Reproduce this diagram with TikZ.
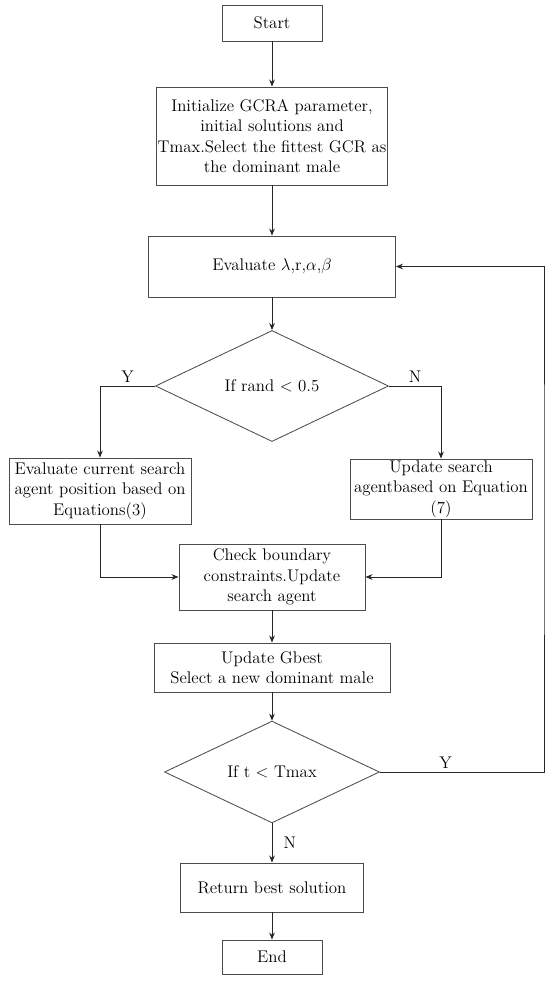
\documentclass[tikz,border=0pt]{standalone}
\usetikzlibrary{arrows.meta, shapes.geometric}
\usepackage{xcolor}
\def\pxunit{0.025cm}

\begin{document}
\begin{tikzpicture}[x=\pxunit, y=-\pxunit, line width=0.6pt, >={Stealth[length=5pt,width=4pt]}]
    \tikzstyle{every node}=[font=\fontsize{12}{14.6}\selectfont]
    \tikzstyle{block}=[rectangle, draw=black!70, align=center, inner sep=1pt]
    \tikzstyle{decision}=[diamond, draw=black!70, inner sep=0pt]
    \tikzstyle{line}=[->, draw=black!85]
    \tikzstyle{annot}=[inner sep=2pt]

    \useasboundingbox (0,0) rectangle (550,982);

    % Draw the main column
    \node[block, minimum width=100*\pxunit, minimum height=36*\pxunit] (start) at (272,23) {Start};
    \node[block, minimum width=224*\pxunit, minimum height=98*\pxunit] (init) at (272,136)
        {Initialize GCRA parameter,\\ initial solutions and\\ Tmax.Select the fittest GCR as\\ the dominant male};
    \node[block, minimum width=247*\pxunit, minimum height=61*\pxunit] (eval) at (272,266.5)
        {Evaluate $\lambda$,r,$\alpha$,$\beta$};
    \node[decision, minimum width=233*\pxunit, minimum height=111*\pxunit] (rand) at (272,386) {If rand $<$ 0.5};

    % Draw the two branches
    \node[block, minimum width=182*\pxunit, minimum height=66*\pxunit] (pos) at (100,491)
        {Evaluate current search\\ agent position based on\\ Equations(3)};
    \node[block, minimum width=182*\pxunit, minimum height=60*\pxunit] (upd) at (441,489)
        {Update search\\ agentbased on Equation\\ (7)};

    \node[block, minimum width=186*\pxunit, minimum height=66*\pxunit] (check) at (272,577)
        {Check boundary\\ constraints.Update\\ search agent};
    \node[block, minimum width=236*\pxunit, minimum height=49*\pxunit] (gbest) at (272,667.5)
        {Update Gbest\\ Select a new dominant male};
    \node[decision, minimum width=215*\pxunit, minimum height=91*\pxunit] (iter) at (272,772) {If t $<$ Tmax};
    \node[block, minimum width=183*\pxunit, minimum height=49*\pxunit] (ret) at (272,887.5) {Return best solution};
    \node[block, minimum width=100*\pxunit, minimum height=34*\pxunit] (end) at (272,957) {End};

    % Loop back point on the right
    \coordinate (back) at (544,500);

    % Connect the nodes
    \draw[line] (start) -- (init);
    \draw[line] (init) -- (eval);
    \draw[line] (eval) -- (rand);
    \draw[line] (rand.west) -| node[annot, pos=0.25, above] {Y} (pos);
    \draw[line] (rand.east) -| node[annot, pos=0.25, above] {N} (upd);
    \draw[line] (pos.south) |- (check.west);
    \draw[line] (upd.south) |- (check.east);
    \draw[line] (check) -- (gbest);
    \draw[line] (gbest) -- (iter);
    \draw[line] (iter) -- node[annot, right=6pt] {N} (ret);
    \draw[line] (ret) -- (end);
    \draw[line] (iter.east) -| node[annot, pos=0.2, above] {Y} (back) |- (eval.east);
\end{tikzpicture}
\end{document}
